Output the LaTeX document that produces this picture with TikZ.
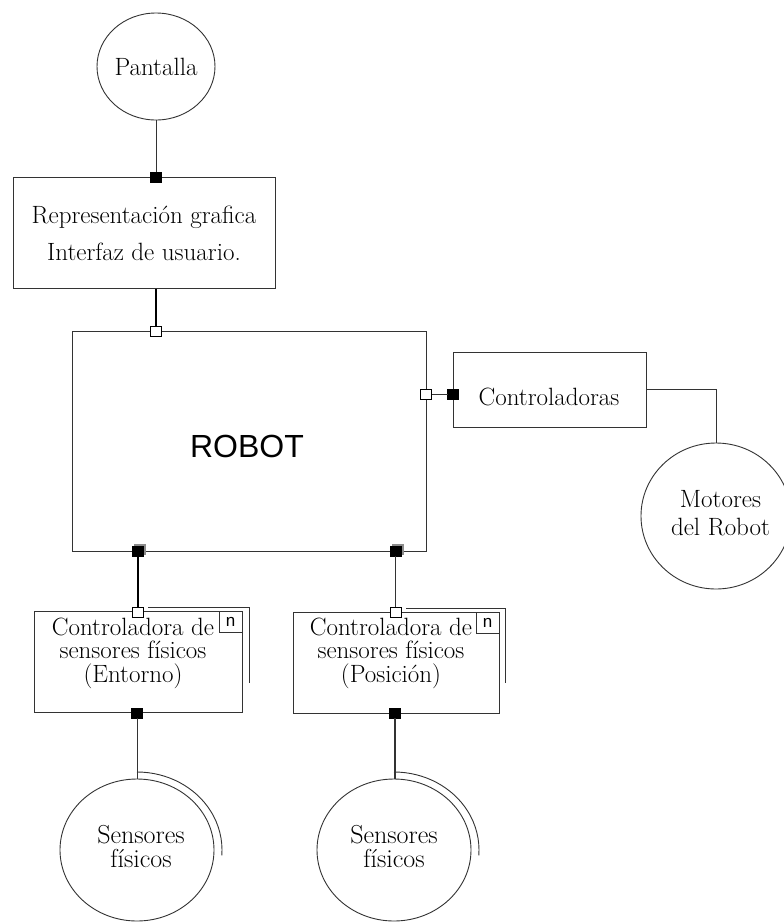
\documentclass[tikz,border=0pt]{standalone}
\usepackage{fontspec}
\newfontfamily\robotfont{Liberation Sans}
\usetikzlibrary{shapes.geometric}
\begin{document}
\begin{tikzpicture}[x=1pt,y=-1pt,
  every node/.style={inner sep=0pt, outer sep=0pt},
  edge/.style={draw=black!80, line width=0.9pt},
  heavy/.style={draw=black, line width=1.8pt},
  frame/.style={draw=black!80, line width=0.9pt, rectangle},
  bubble/.style={draw=black!80, line width=0.9pt, ellipse},
  txt/.style={align=center, font=\fontsize{25}{24}\selectfont},
  port/.style={draw=black, line width=0.7pt, fill=white, rectangle,
               minimum width=11pt, minimum height=10pt},
  plug/.style={port, fill=black},
  plugshade/.style={port, draw=black!45, fill=black!45},
  tag/.style={draw=black!80, line width=0.8pt, rectangle,
              minimum width=23pt, minimum height=21pt,
              font=\robotfont\fontsize{17}{17}\selectfont},
]
\fill[white] (0,0) rectangle (784,922);
\useasboundingbox (0,0) rectangle (784,922);

% display and user interface
\node[bubble, minimum width=118pt, minimum height=107pt, txt] (pantalla) at (156,66.5) {Pantalla};
\node[frame, minimum width=262pt, minimum height=111pt, txt,
      font=\fontsize{25}{37}\selectfont] (rep) at (144,233) 
      {Representación grafica\\Interfaz de usuario.};

% robot core
\node[frame, minimum width=354pt, minimum height=220pt] (robot) at (249,441) {};
\node[font=\robotfont\fontsize{32}{32}\selectfont] (robotname) at (247,446) {ROBOT};

% motor controllers and motors
\node[frame, minimum width=193pt, minimum height=75pt] (ctrl) at (549.5,389.5) {};
\node[txt] (ctrlname) at (549,397) {Controladoras};
\node[bubble, minimum width=150pt, minimum height=146pt] (motores) at (716,516) {};
\node[txt, font=\fontsize{25}{28}\selectfont] (motname) at (720.5,513) {Motores\\del Robot};

% sensor controllers (stacked, multiplicity n)
\draw[edge] (148,607) -| (249,683);
\node[frame, fill=white, minimum width=208pt, minimum height=101pt] (ce) at (138,662) {};
\node[tag, anchor=north east] (ce-n) at (ce.north east) {n};
\node[txt, font=\fontsize{25}{23.5}\selectfont] (cename) at (133,653)
      {Controladora de\\sensores físicos\\(Entorno)};

\draw[edge] (406,608) -| (505,683);
\node[frame, fill=white, minimum width=206pt, minimum height=101pt] (cp) at (396,662.5) {};
\node[tag, anchor=north east] (cp-n) at (cp.north east) {n};
\node[txt, font=\fontsize{25}{23.5}\selectfont] (cpname) at (391,653)
      {Controladora de\\sensores físicos\\(Posición)};

% physical sensors (stacked)
\node[bubble, minimum width=154pt, minimum height=142pt] (se) at (137,850) {};
\node[txt, font=\fontsize{26}{24}\selectfont] (sename) at (141,847) {Sensores\\físicos};
\draw[edge] (se.center) ++(0,-78) arc[start angle=-90, end angle=4, x radius=85, y radius=78];

\node[bubble, minimum width=154pt, minimum height=142pt] (sp) at (394,850) {};
\node[txt, font=\fontsize{26}{24}\selectfont] (spname) at (394,847) {Sensores\\físicos};
\draw[edge] (sp.center) ++(0,-78) arc[start angle=-90, end angle=4, x radius=85, y radius=78];

% ports
\node[plug] (pantalla-port) at (156,177) {};
\node[port] (robot-top) at (156,331) {};
\node[port] (robot-right) at (426,394) {};
\node[plug] (ctrl-left) at (453,394) {};
\node[plugshade] (robot-bl-shade) at (140,549.5) {};
\node[plug] (robot-bl) at (138,551) {};
\node[plugshade] (robot-br-shade) at (397.5,549.5) {};
\node[plug] (robot-br) at (395.5,551) {};
\node[port] (ce-top) at (138,612) {};
\node[port] (cp-top) at (395.5,612) {};
\node[plug] (ce-bot) at (137,713) {};
\node[plug] (cp-bot) at (395,713) {};

% connectors
\draw[edge] (pantalla) -- (pantalla-port);
\draw[heavy] (rep.south -| robot-top) -- (robot-top);
\draw[edge] (robot-right) -- (ctrl-left);
\draw[edge] (ctrl.east) -| (motores.north);
\draw[heavy] (robot-bl) -- (ce-top);
\draw[edge] (robot-br) -- (cp-top);
\draw[edge] (ce-bot) -- (se);
\draw[edge, line width=1.4pt] (cp-bot) -- (cp-bot |- sp.north);
\end{tikzpicture}
\end{document}
